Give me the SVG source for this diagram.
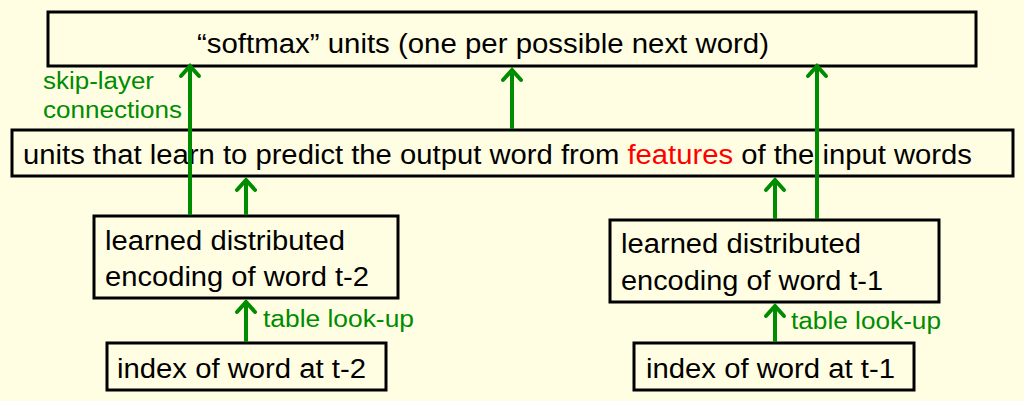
<svg xmlns="http://www.w3.org/2000/svg" width="1024" height="401" viewBox="0 0 1024 401">
<defs>
<marker id="ah" markerWidth="30" markerHeight="30" viewBox="-15 -15 30 30" refX="0" refY="0" orient="auto" markerUnits="userSpaceOnUse" overflow="visible">
<polyline points="-10,-9 0,0 -10,9" fill="none" stroke="#008C00" stroke-width="4" stroke-linecap="round" stroke-linejoin="miter"/>
</marker>
</defs>
<style>
.box{fill:#FFFEE3;stroke:#000;stroke-width:3}
.t{font-family:"Liberation Sans",Arial,sans-serif;font-size:27px;fill:#000}
.g{font-family:"Liberation Sans",Arial,sans-serif;font-size:23.5px;fill:#008C00}
.c{stroke:#008C00;stroke-width:4;fill:none;marker-end:url(#ah)}
</style>
<rect width="1024" height="401" fill="#FFFEE3"/>
<g id="softmax">
<rect class="box" x="48" y="12" width="928" height="54"/>
<text class="t" x="197" y="53" textLength="572" lengthAdjust="spacingAndGlyphs">“softmax” units (one per possible next word)</text>
</g>
<g id="hidden">
<rect class="box" x="12" y="130" width="1001" height="46"/>
<text class="t" x="23" y="164" textLength="949" lengthAdjust="spacingAndGlyphs">units that learn to predict the output word from <tspan fill="#FF0000">features</tspan> of the input words</text>
</g>
<g id="enc2">
<rect class="box" x="94" y="216" width="304" height="82"/>
<text class="t" x="105" y="250" textLength="240" lengthAdjust="spacingAndGlyphs">learned distributed</text>
<text class="t" x="105" y="286" textLength="264" lengthAdjust="spacingAndGlyphs">encoding of word t-2</text>
</g>
<g id="enc1">
<rect class="box" x="610" y="220" width="329" height="82"/>
<text class="t" x="621" y="253" textLength="240" lengthAdjust="spacingAndGlyphs">learned distributed</text>
<text class="t" x="621" y="290" textLength="262" lengthAdjust="spacingAndGlyphs">encoding of word t-1</text>
</g>
<g id="idx2">
<rect class="box" x="107" y="343" width="279" height="47"/>
<text class="t" x="117" y="378" textLength="249" lengthAdjust="spacingAndGlyphs">index of word at t-2</text>
</g>
<g id="idx1">
<rect class="box" x="634" y="343" width="280" height="47"/>
<text class="t" x="646" y="378" textLength="249" lengthAdjust="spacingAndGlyphs">index of word at t-1</text>
</g>
<g id="labels">
<text class="g" x="43" y="89" textLength="111" lengthAdjust="spacingAndGlyphs">skip-layer</text>
<text class="g" x="43" y="118" textLength="139" lengthAdjust="spacingAndGlyphs">connections</text>
<text class="g" x="263" y="327" textLength="151" lengthAdjust="spacingAndGlyphs">table look-up</text>
<text class="g" x="791" y="329" textLength="150" lengthAdjust="spacingAndGlyphs">table look-up</text>
</g>
<g id="connectors">
<line class="c" x1="190" y1="215" x2="190" y2="66"/>
<line class="c" x1="512" y1="129" x2="512" y2="70"/>
<line class="c" x1="817" y1="219" x2="817" y2="66"/>
<line class="c" x1="246" y1="215" x2="246" y2="180"/>
<line class="c" x1="775" y1="219" x2="775" y2="180"/>
<line class="c" x1="246" y1="342" x2="246" y2="302"/>
<line class="c" x1="775" y1="342" x2="775" y2="306"/>
</g>
</svg>
